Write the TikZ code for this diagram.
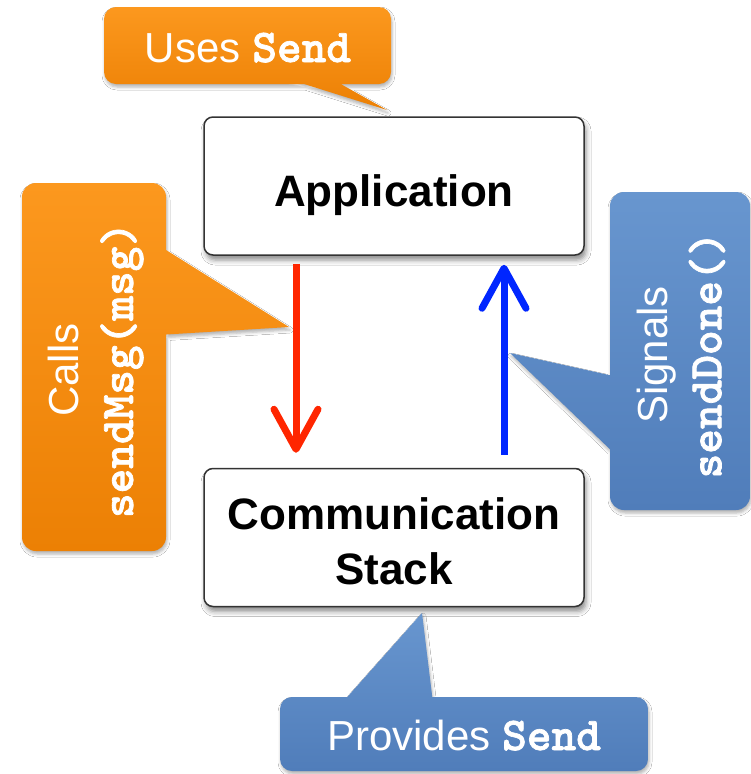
\documentclass[tikz,border=0pt]{standalone}
\usepackage{fontspec}
\setmainfont{Liberation Sans}
\newfontfamily\codefont{lmmonolt10-bold.otf}[FakeBold=1.5]
\usetikzlibrary{arrows.meta,shadows.blur}

\definecolor{orangeTop}{RGB}{252,152,30}
\definecolor{orangeBot}{RGB}{236,128,4}
\definecolor{blueTop}{RGB}{104,150,207}
\definecolor{blueBot}{RGB}{80,125,186}
\definecolor{sendRed}{RGB}{255,38,0}
\definecolor{doneBlue}{RGB}{0,38,255}

\newcommand{\code}[1]{{\codefont\fontsize{47}{54}\selectfont #1}}

\tikzset{
  box/.style={draw=black!80, line width=1.5pt, rounded corners=9pt, fill=white,
    minimum width=380pt, minimum height=138pt, inner sep=0pt,
    blur shadow={shadow xshift=2pt, shadow yshift=-5pt, shadow blur radius=5pt, shadow opacity=45}},
  boxtext/.style={font=\fontsize{44}{55}\selectfont\bfseries, inner sep=0pt, align=center},
  callout text/.style={text=white, font=\fontsize{42}{54}\selectfont, inner sep=0pt, align=center},
  orange callout/.style={top color=orangeTop, bottom color=orangeBot,
    blur shadow={shadow xshift=1pt, shadow yshift=-3pt, shadow blur radius=3pt, shadow opacity=30}},
  blue callout/.style={top color=blueTop, bottom color=blueBot,
    blur shadow={shadow xshift=1pt, shadow yshift=-3pt, shadow blur radius=3pt, shadow opacity=30}},
  flow/.style={line width=7pt, -{Straight Barb[length=40pt,width=44pt,round]}}
}

\begin{document}
\begin{tikzpicture}[x=1pt, y=-1pt]
  \useasboundingbox (0,0) rectangle (751,774);
  \fill[white] (0,0) rectangle (751,774);

  % layer boxes
  \node[box] (app) at (394,186) {};
  \node[box] (stack) at (394,537.5) {};
  \node[boxtext, anchor=base] (apptext) at (394,206) {Application};
  \node[boxtext, anchor=base] (stacktext) at (394,584) {Communication\\Stack};

  % down call and up signal
  \coordinate (redx) at (296,0);
  \coordinate (bluex) at (504,0);
  \draw[flow, sendRed, shorten <=8pt, shorten >=15pt] (app.south -| redx) -- (stack.north -| redx);
  \draw[flow, doneBlue, shorten <=13pt, shorten >=9pt] (stack.north -| bluex) -- (app.south -| bluex);

  % speech bubbles: rounded body plus pointer, filled as one path
  \shade[orange callout, rounded corners=12pt]
    (104,7) -- (391,7) -- (391,84) -- (104,84) -- cycle
    [sharp corners] (285,78) -- (330,78) -- (387,110) -- cycle;
  \shade[orange callout, rounded corners=14pt]
    (22,183) -- (166,183) -- (166,551) -- (22,551) -- cycle
    [sharp corners] (158,245) -- (289,327) -- (158,335) -- cycle;
  \shade[blue callout, rounded corners=14pt]
    (610,192) -- (750,192) -- (750,510) -- (610,510) -- cycle
    [sharp corners] (618,377) -- (618,457) -- (510,353) -- cycle;
  \shade[blue callout, rounded corners=12pt]
    (280,697) -- (648,697) -- (648,771) -- (280,771) -- cycle
    [sharp corners] (342,703) -- (422,613) -- (433,703) -- cycle;

  \node[callout text, anchor=base] (uses) at (248,62) {Uses \code{Send}};
  \node[callout text, rotate=90] (calls) at (96,370) {Calls\\\code{sendMsg(msg)}};
  \node[callout text, rotate=90] (signals) at (681,355) {Signals\\\code{sendDone()}};
  \node[callout text, anchor=base] (provides) at (464,750) {Provides \code{Send}};
\end{tikzpicture}
\end{document}
